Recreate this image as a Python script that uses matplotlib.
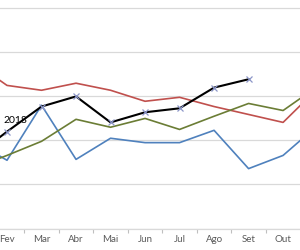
import numpy as np
import matplotlib
matplotlib.use("Agg")
import matplotlib.pyplot as plt

plt.rcParams['font.family'] = ['Lato', 'DejaVu Sans']

# Month labels (Portuguese), Jan..Nov
months = ["Jan", "Fev", "Mar", "Abr", "Mai", "Jun", "Jul", "Ago", "Set", "Out", "Nov"]

# series values (one unit = one gridline step)
red = [3.80, 3.25, 3.14, 3.30, 3.14, 2.89, 2.98, 2.77, 2.59, 2.41, 3.18]
blue = [2.00, 1.55, 2.80, 1.57, 2.05, 1.95, 1.95, 2.23, 1.36, 1.66, 2.34]
green = [1.36, 1.66, 1.98, 2.48, 2.30, 2.50, 2.25, 2.55, 2.84, 2.68, 3.23]
y2018 = [1.60, 2.20, 2.77, 3.00, 2.41, 2.64, 2.73, 3.20, 3.39]

x = np.arange(len(months))

fig = plt.figure(figsize=(3, 2.5), dpi=100)
ax = fig.add_axes([0, 0.086, 1, 0.914])

ax.plot(x, red, color="#C0504D", lw=1.2)
ax.plot(x, blue, color="#4F81BD", lw=1.2)
ax.plot(x, green, color="#6B7D35", lw=1.2)
ax.plot(x[:len(y2018)], y2018, color="black", lw=1.5,
        marker="x", ms=4, mec="#8C96C8", mew=0.9)
ax.text(0.9, 2.46, "2018", fontsize=7.5, color="black", ha="left", va="center")

ax.set_yticks(np.arange(0, 6))
ax.yaxis.grid(True, color="#D9D9D9", lw=0.9)
ax.set_axisbelow(True)
ax.tick_params(axis="y", left=False, labelleft=False)

ax.set_xticks(x + 0.5)
ax.set_xticklabels([])
ax.set_xticks(x, minor=True)
ax.set_xticklabels(months, minor=True, fontsize=7, color="#595959")
ax.tick_params(axis="x", which="major", length=3, color="#BFBFBF", width=0.8)
ax.tick_params(axis="x", which="minor", length=0, pad=5)

# limits after the ticks, so the ticks do not widen the view
ax.set_xlim(0.797, 9.49)
ax.set_ylim(0, 5.19)

for s in ["top", "left", "right"]:
    ax.spines[s].set_visible(False)
ax.spines["bottom"].set_color("#D9D9D9")
ax.spines["bottom"].set_linewidth(0.9)

fig.savefig("out.png", dpi=100)
